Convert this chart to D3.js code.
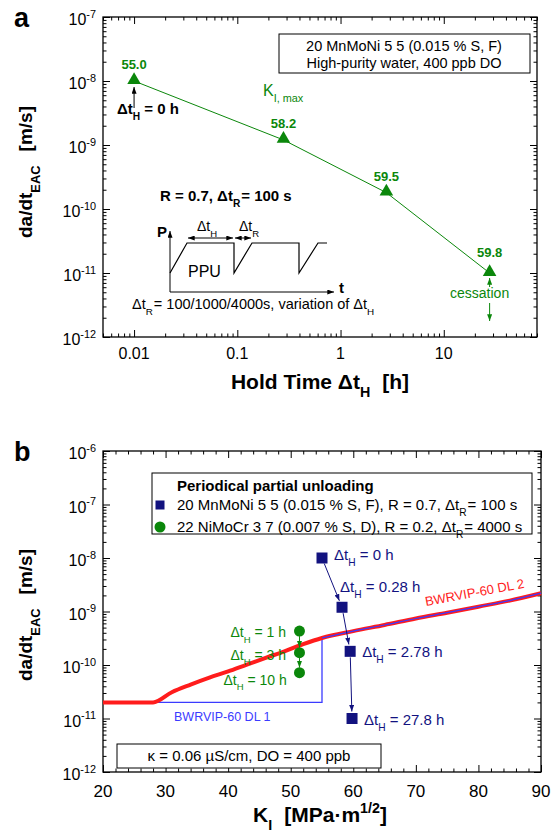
<!DOCTYPE html>
<html>
<head>
<meta charset="utf-8">
<script src="https://cdn.jsdelivr.net/npm/d3@7"></script>
<style>
body { margin: 0; background: #fff; }
svg { display: block; font-family: "Liberation Sans", Arial, sans-serif; }
</style>
</head>
<body>
<svg id="chart" width="555" height="835"></svg>
<script>
// panel a: hold time vs. crack growth rate (first point is dt_H = 0, drawn at 0.01 h)
var holdTimes = [0.01, 0.28, 2.78, 27.8];
var rates = [1e-8, 1.2e-9, 1.8e-10, 1e-11];
var kMaxLabels = ['55.0', '58.2', '59.5', '59.8'];

// panel b: same PPU test vs. K_I, plus 22 NiMoCr 3 7
var kMax = [55.0, 58.2, 59.5, 59.8];
var holdLabels = ['0 h', '0.28 h', '2.78 h', '27.8 h'];
var niK = [51.4, 51.4, 51.4];
var niRates = [4.3e-10, 1.7e-10, 7.2e-11];
var niLabels = ['1 h', '3 h', '10 h'];

// BWRVIP-60 disposition lines
var dl2K = [20, 28, 31, 34, 37, 40, 43, 46, 49, 52, 55, 60, 65, 70, 75, 80, 85, 90];
var dl2Rates = [2e-11, 2e-11, 3.1e-11, 4.3e-11, 5.8e-11, 7.6e-11, 1.02e-10, 1.36e-10, 1.8e-10, 2.45e-10,
    3.2e-10, 4.3e-10, 5.6e-10, 7.4e-10, 9.5e-10, 1.23e-9, 1.6e-9, 2.2e-9];
var dl1K = [20, 55, 55];
var dl1Rates = [2e-11, 2e-11, 3.2e-10];

// ticks
var xTicksA = [0.01, 0.1, 1, 10];
var xTickLabelsA = ['0.01', '0.1', '1', '10'];
var yExpA = [-12, -11, -10, -9, -8, -7];
var xTicksB = [20, 30, 40, 50, 60, 70, 80, 90];
var yExpB = [-12, -11, -10, -9, -8, -7, -6];

var svg = d3.select('#chart');
var green = '#0b870b', navy = '#12127f', red = '#ff1c1c', blue = '#3b3bff';

var xA = d3.scaleLog().domain([0.005, 80]).range([103, 537]);
var yA = d3.scaleLog().domain([1e-12, 1e-7]).range([337, 17]);
var xB = d3.scaleLinear().domain([20, 90]).range([103, 541]);
var yB = d3.scaleLog().domain([1e-12, 1e-6]).range([772, 451]);

// arrow heads
var defs = svg.append('defs');
[['blk', '#000'], ['grn', green], ['nav', navy]].forEach(function (m) {
    defs.append('marker').attr('id', 'ah-' + m[0])
        .attr('viewBox', '0 0 8 6').attr('refX', 8).attr('refY', 3)
        .attr('markerWidth', 7).attr('markerHeight', 5).attr('markerUnits', 'userSpaceOnUse')
        .attr('orient', 'auto-start-reverse')
        .append('path').attr('d', 'M0,0L8,3L0,6z').attr('fill', m[1]);
});

// text with sub/superscripts: parts = [[text, 'sub'|'sup'|'', dx]]
function rich(g, x, y, parts, size, opts) {
    opts = opts || {};
    var t = g.append('text').attr('x', x).attr('y', y).attr('font-size', size)
        .attr('fill', opts.fill || '#000')
        .attr('font-weight', opts.bold ? 'bold' : null)
        .attr('text-anchor', opts.anchor || 'start');
    if (opts.rotate !== undefined) t.attr('transform', 'rotate(' + opts.rotate + ',' + x + ',' + y + ')');
    var cur = 0;
    parts.forEach(function (p) {
        var target = p[1] === 'sub' ? size * 0.4 : p[1] === 'sup' ? -size * 0.45 : 0;
        var ts = t.append('tspan').text(p[0]).attr('dy', target - cur);
        if (p[1]) ts.attr('font-size', size * 0.68);
        if (p[2]) ts.attr('dx', p[2]);
        cur = target;
    });
    return t;
}

function logMinors(domain) {
    var out = [];
    for (var d = Math.floor(Math.log10(domain[0])); d <= Math.ceil(Math.log10(domain[1])); d++) {
        for (var k = 2; k <= 9; k++) {
            var v = k * Math.pow(10, d);
            if (v >= domain[0] && v <= domain[1]) out.push(v);
        }
    }
    return out;
}

function frame(x, y, xMajor, xMinor, yMajor, yMinor) {
    var g = svg.append('g');
    var l = x.range()[0], r = x.range()[1], b = y.range()[0], t = y.range()[1];
    [[xMajor, 7], [xMinor, 3.5]].forEach(function (d) {
        g.append('g').attr('transform', 'translate(0,' + b + ')')
            .call(d3.axisBottom(x).tickValues(d[0]).tickSize(-d[1]).tickFormat(''));
        g.append('g').attr('transform', 'translate(0,' + t + ')')
            .call(d3.axisTop(x).tickValues(d[0]).tickSize(-d[1]).tickFormat(''));
    });
    [[yMajor, 7], [yMinor, 3.5]].forEach(function (d) {
        g.append('g').attr('transform', 'translate(' + l + ',0)')
            .call(d3.axisLeft(y).tickValues(d[0]).tickSize(-d[1]).tickFormat(''));
        g.append('g').attr('transform', 'translate(' + r + ',0)')
            .call(d3.axisRight(y).tickValues(d[0]).tickSize(-d[1]).tickFormat(''));
    });
    g.selectAll('.domain').remove();
    g.selectAll('.tick line').attr('stroke', '#000').attr('stroke-width', 1);
    g.append('rect').attr('x', l).attr('y', t).attr('width', r - l).attr('height', b - t)
        .attr('fill', 'none').attr('stroke', '#000').attr('stroke-width', 1.3);
    return g;
}

function yLogLabels(y, exps, xr) {
    exps.forEach(function (e) {
        rich(svg, xr, y(Math.pow(10, e)) + 8, [['10', ''], [String(e), 'sup']], 16, { anchor: 'end' });
    });
}

function arrow(g, x1, y1, x2, y2, col, id, both) {
    var ln = g.append('line').attr('x1', x1).attr('y1', y1).attr('x2', x2).attr('y2', y2)
        .attr('stroke', col).attr('stroke-width', 1).attr('marker-end', 'url(#ah-' + id + ')');
    if (both) ln.attr('marker-start', 'url(#ah-' + id + ')');
    return ln;
}

// ---------------- panel a ----------------
frame(xA, yA, xTicksA, logMinors(xA.domain()), yExpA.map(function (e) { return Math.pow(10, e); }), logMinors(yA.domain()));
yLogLabels(yA, yExpA, 96);
svg.selectAll('.xla').data(xTicksA).enter().append('text')
    .attr('x', function (d) { return xA(d); }).attr('y', 359)
    .attr('text-anchor', 'middle').attr('font-size', 16)
    .text(function (d, i) { return xTickLabelsA[i]; });

svg.append('text').attr('x', 14).attr('y', 27).attr('font-size', 27).attr('font-weight', 'bold').text('a');
rich(svg, 32, 172, [['da/dt', ''], ['EAC', 'sub'], ['[m/s]', '', 14]], 19, { bold: true, anchor: 'middle', rotate: -90 });
rich(svg, 320, 389, [['Hold Time \u0394t', ''], ['H', 'sub'], ['[h]', '', 12]], 21, { bold: true, anchor: 'middle' });

// info box
svg.append('rect').attr('x', 279).attr('y', 34).attr('width', 251).attr('height', 39)
    .attr('fill', '#fff').attr('stroke', '#000').attr('stroke-width', 1);
svg.append('text').attr('x', 404).attr('y', 51).attr('text-anchor', 'middle').attr('font-size', 14.5)
    .text('20 MnMoNi 5 5 (0.015 % S, F)');
svg.append('text').attr('x', 404).attr('y', 68).attr('text-anchor', 'middle').attr('font-size', 14.5)
    .text('High-purity water, 400 ppb DO');

// green series
var ga = svg.append('g');
ga.append('path').datum(holdTimes)
    .attr('d', d3.line().x(function (d) { return xA(d); }).y(function (d, i) { return yA(rates[i]); }))
    .attr('fill', 'none').attr('stroke', green).attr('stroke-width', 1);
ga.selectAll('.tri').data(holdTimes).enter().append('path')
    .attr('d', d3.symbol().type(d3.symbolTriangle).size(80))
    .attr('transform', function (d, i) { return 'translate(' + xA(d) + ',' + (yA(rates[i]) - 1) + ')'; })
    .attr('fill', green);
ga.selectAll('.kl').data(holdTimes).enter().append('text')
    .attr('x', function (d) { return xA(d); })
    .attr('y', function (d, i) { return yA(rates[i]) - (i === 3 ? 16 : 12); })
    .attr('text-anchor', 'middle').attr('font-size', 13).attr('font-weight', 'bold').attr('fill', green)
    .text(function (d, i) { return kMaxLabels[i]; });
rich(svg, 263, 96, [['K', ''], ['I, max', 'sub']], 16, { fill: green });

// dt_H = 0 h arrow
var x0 = xA(holdTimes[0]), y0 = yA(rates[0]);
arrow(svg, x0, y0 + 27, x0, y0 + 6, '#000', 'blk');
rich(svg, 117, y0 + 33, [['\u0394t', ''], ['H', 'sub'], [' = 0 h', '']], 15, { bold: true });

// cessation
var x3 = xA(holdTimes[3]), y3 = yA(rates[3]);
arrow(svg, x3, y3 + 14, x3, y3 + 5, green, 'grn');
arrow(svg, x3, y3 + 30, x3, y3 + 48, green, 'grn');
svg.append('text').attr('x', x3 - 10).attr('y', y3 + 25).attr('text-anchor', 'middle')
    .attr('font-size', 14).attr('fill', green).text('cessation');

// PPU inset schematic
var ins = svg.append('g');
rich(ins, 160, 201, [['R = 0.7,  \u0394t', ''], ['R', 'sub'], ['=  100 s', '', 1]], 15, { bold: true });
arrow(ins, 170, 292, 170, 231, '#000', 'blk');
arrow(ins, 170, 292, 334, 292, '#000', 'blk');
ins.append('path')
    .attr('d', 'M170,273L187,243L234,243L234,273L252,243L299,243L299,273L318,243L327,243')
    .attr('fill', 'none').attr('stroke', '#000').attr('stroke-width', 1.2);
arrow(ins, 188, 238, 233, 238, '#000', 'blk', true);
arrow(ins, 235, 238, 251, 238, '#000', 'blk', true);
rich(ins, 197, 231, [['\u0394t', ''], ['H', 'sub']], 14);
rich(ins, 239, 231, [['\u0394t', ''], ['R', 'sub']], 14);
ins.append('text').attr('x', 157).attr('y', 237).attr('font-size', 15).attr('font-weight', 'bold').text('P');
ins.append('text').attr('x', 339).attr('y', 293).attr('font-size', 15).attr('font-weight', 'bold').text('t');
ins.append('text').attr('x', 188).attr('y', 277).attr('font-size', 16).text('PPU');
rich(ins, 132, 309, [['\u0394t', ''], ['R', 'sub'], ['= 100/1000/4000s, variation of \u0394t', '', 1], ['H', 'sub']], 14.5);

// ---------------- panel b ----------------
frame(xB, yB, xTicksB, d3.range(22, 90, 2).filter(function (v) { return v % 10 !== 0; }),
    yExpB.map(function (e) { return Math.pow(10, e); }), logMinors(yB.domain()));
yLogLabels(yB, yExpB, 96);
svg.selectAll('.xlb').data(xTicksB).enter().append('text')
    .attr('x', function (d) { return xB(d); }).attr('y', 797)
    .attr('text-anchor', 'middle').attr('font-size', 17)
    .text(function (d) { return d; });

svg.append('text').attr('x', 14).attr('y', 461).attr('font-size', 27).attr('font-weight', 'bold').text('b');
rich(svg, 32, 615, [['da/dt', ''], ['EAC', 'sub'], ['[m/s]', '', 14]], 19, { bold: true, anchor: 'middle', rotate: -90 });
rich(svg, 320, 822, [['K', ''], ['I', 'sub'], ['[MPa\u00b7m', '', 12], ['1/2', 'sup'], [']', '']], 21, { bold: true, anchor: 'middle' });

// disposition lines
var gb = svg.append('g');
var kLine = d3.line().x(function (d) { return xB(d[0]); }).y(function (d) { return yB(d[1]); });
gb.append('path').datum(dl1K.map(function (k, i) { return [k, dl1Rates[i]]; }))
    .attr('d', kLine).attr('fill', 'none').attr('stroke', blue).attr('stroke-width', 1.3);
gb.append('path').datum(dl2K.map(function (k, i) { return [k, dl2Rates[i]]; }))
    .attr('d', kLine.curve(d3.curveMonotoneX)).attr('fill', 'none').attr('stroke', red).attr('stroke-width', 4);
gb.append('path').datum(dl2K.map(function (k, i) { return [k, dl2Rates[i]]; }).filter(function (d) { return d[0] >= 55; }))
    .attr('d', kLine.curve(d3.curveMonotoneX)).attr('fill', 'none').attr('stroke', blue).attr('stroke-width', 1.2);
gb.append('text').attr('x', 174).attr('y', 721).attr('font-size', 12.5).attr('fill', blue).text('BWRVIP-60 DL 1');
gb.append('text').attr('x', 426).attr('y', 606).attr('font-size', 13).attr('fill', red)
    .attr('transform', 'rotate(-10.5,426,606)').text('BWRVIP-60 DL 2');

// navy squares with arrows
var sq = kMax.map(function (k, i) { return [xB(k), yB(rates[i])]; });
for (var i = 0; i < sq.length - 1; i++) {
    var dx = sq[i + 1][0] - sq[i][0], dy = sq[i + 1][1] - sq[i][1], len = Math.sqrt(dx * dx + dy * dy);
    arrow(gb, sq[i][0] + dx / len * 6, sq[i][1] + dy / len * 6,
        sq[i + 1][0] - dx / len * 7, sq[i + 1][1] - dy / len * 7, navy, 'nav');
}
gb.selectAll('.sq').data(sq).enter().append('rect')
    .attr('x', function (d) { return d[0] - 5.5; }).attr('y', function (d) { return d[1] - 5.5; })
    .attr('width', 11).attr('height', 11).attr('fill', navy);
var sqLab = [[12, 2], [-2, -15], [12, 6], [12, 6]];
holdLabels.forEach(function (h, i) {
    rich(gb, sq[i][0] + sqLab[i][0], sq[i][1] + sqLab[i][1], [['\u0394t', ''], ['H', 'sub'], [' = ' + h, '']], 15, { fill: navy });
});

// green circles with arrows
var ci = niK.map(function (k, i) { return [xB(k), yB(niRates[i])]; });
for (var j = 0; j < ci.length - 1; j++) {
    arrow(gb, ci[j][0], ci[j][1] + 5, ci[j + 1][0], ci[j + 1][1] - 5, green, 'grn');
}
gb.selectAll('.ci').data(ci).enter().append('circle')
    .attr('cx', function (d) { return d[0]; }).attr('cy', function (d) { return d[1]; })
    .attr('r', 5.5).attr('fill', green);
var ciLab = [[-69, 6], [-69, 7], [-76, 12]];
niLabels.forEach(function (h, i) {
    rich(gb, ci[i][0] + ciLab[i][0], ci[i][1] + ciLab[i][1], [['\u0394t', ''], ['H', 'sub'], [' = ' + h, '']], 14, { fill: green });
});

// legend
var lg = svg.append('g');
lg.append('rect').attr('x', 152).attr('y', 473).attr('width', 380).attr('height', 61)
    .attr('fill', '#fff').attr('stroke', '#000').attr('stroke-width', 1);
lg.append('text').attr('x', 177).attr('y', 491).attr('font-size', 15).attr('font-weight', 'bold')
    .text('Periodical partial unloading');
lg.append('rect').attr('x', 155.5).attr('y', 500.5).attr('width', 9).attr('height', 9).attr('fill', navy);
lg.append('circle').attr('cx', 160).attr('cy', 527).attr('r', 5.5).attr('fill', green);
rich(lg, 177, 510, [['20 MnMoNi 5 5 (0.015 % S, F), R = 0.7, \u0394t', ''], ['R', 'sub'], ['= 100 s', '', 1]], 15);
rich(lg, 177, 532, [['22 NiMoCr 3 7 (0.007 % S, D), R = 0.2, \u0394t', ''], ['R', 'sub'], ['= 4000 s', '', 1]], 15);

// environment box
svg.append('rect').attr('x', 117).attr('y', 744).attr('width', 264).attr('height', 24)
    .attr('fill', '#fff').attr('stroke', '#000').attr('stroke-width', 1);
svg.append('text').attr('x', 249).attr('y', 761).attr('text-anchor', 'middle').attr('font-size', 15)
    .text('\u03ba = 0.06 \u00b5S/cm, DO = 400 ppb');
</script>
</body>
</html>
